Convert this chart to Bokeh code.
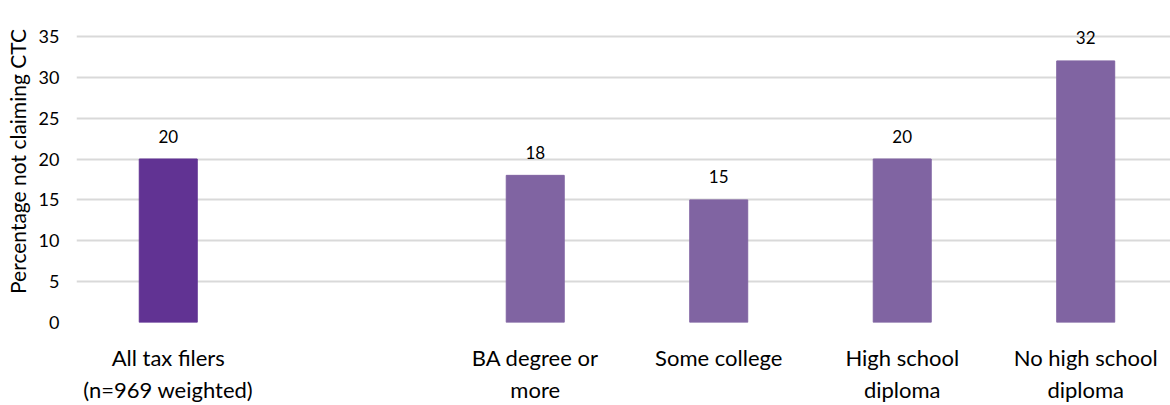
from bokeh.plotting import figure
from bokeh.models import Range1d, FixedTicker, ColumnDataSource, LabelSet
from bokeh.core.properties import value
from bokeh.embed import file_html
from bokeh.resources import INLINE

# Share of tax filers not claiming the Child Tax Credit, by education
categories = ["All tax filers\n(n=969 weighted)", "BA degree or\nmore", "Some college",
              "High school\ndiploma", "No high school\ndiploma"]
positions = [0, 2, 3, 4, 5]          # slot 1 is left empty as a visual gap
values = [20, 18, 15, 20, 32]
colors = ["#613393", "#8064a2", "#8064a2", "#8064a2", "#8064a2"]
y_ticks = [0, 5, 10, 15, 20, 25, 30, 35]
y_title = "Percentage not claiming CTC"

FONT = "Lato"

source = ColumnDataSource(dict(x=positions, top=values, color=colors,
                               label=[str(v) for v in values]))

# the value range runs a little past 35 so the labels above tall bars have room
p = figure(width=1170, height=405, output_backend="svg", toolbar_location=None,
           x_range=Range1d(-0.5, 5.462), y_range=Range1d(0, 39.39),
           min_border_left=76, min_border_right=0, min_border_top=0,
           min_border_bottom=82)
p.outline_line_color = None
p.background_fill_color = "white"

p.vbar(x="x", top="top", width=0.316, bottom=0, color="color", source=source)

p.add_layout(LabelSet(x="x", y="top", text="label", source=source,
                      text_align="center", text_baseline="middle", y_offset=23,
                      text_font=value(FONT), text_font_size="17px",
                      text_color="#000000"))

# axes
p.xaxis.ticker = FixedTicker(ticks=positions)
p.xaxis.major_label_overrides = {pos: lab for pos, lab in zip(positions, categories)}
p.xaxis.major_label_text_font = FONT
p.xaxis.major_label_text_font_size = "22px"
p.xaxis.major_label_text_color = "#000000"
p.xaxis.major_label_standoff = 21
p.xaxis.axis_line_color = None
p.xaxis.major_tick_line_color = None
p.xaxis.minor_tick_line_color = None
p.xaxis.major_tick_in = 0
p.xaxis.major_tick_out = 0
p.xgrid.grid_line_color = None

p.yaxis.ticker = FixedTicker(ticks=y_ticks)
p.yaxis.major_label_text_font = FONT
p.yaxis.major_label_text_font_size = "18px"
p.yaxis.major_label_text_color = "#000000"
p.yaxis.major_label_standoff = 17
p.yaxis.axis_line_color = None
p.yaxis.major_tick_line_color = None
p.yaxis.minor_tick_line_color = None
p.yaxis.major_tick_in = 0
p.yaxis.major_tick_out = 0
p.yaxis.axis_label = y_title
p.yaxis.axis_label_text_font = FONT
p.yaxis.axis_label_text_font_style = "normal"
p.yaxis.axis_label_text_font_size = "21px"
p.yaxis.axis_label_text_color = "#000000"
p.yaxis.axis_label_standoff = 6
p.ygrid.grid_line_color = "#d9d9d9"
p.ygrid.grid_line_width = 2

open("out.html", "w").write(file_html(p, INLINE))
